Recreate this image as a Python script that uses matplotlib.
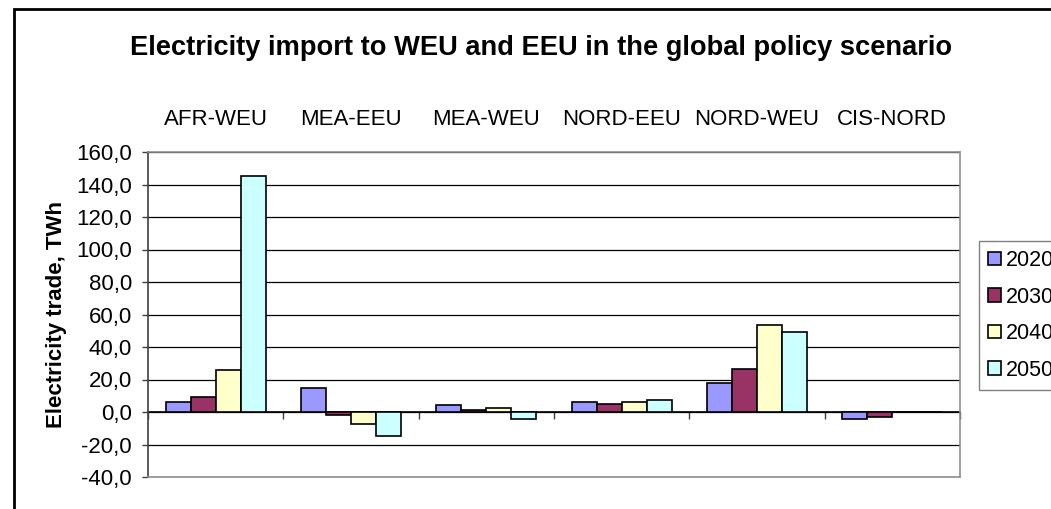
import numpy as np
import matplotlib
matplotlib.use("Agg")
import matplotlib.pyplot as plt
import matplotlib.patches as patches
from matplotlib.ticker import FuncFormatter

plt.rcParams['font.family'] = ['Liberation Sans', 'DejaVu Sans']

# data
routes = ["AFR-WEU", "MEA-EEU", "MEA-WEU", "NORD-EEU", "NORD-WEU", "CIS-NORD"]
years = ["2020", "2030", "2040", "2050"]
y2020 = [6.2, 14.8, 4.1, 6.2, 18.0, -4.3]
y2030 = [9.4, -2.1, 1.0, 5.1, 26.6, -3.1]
y2040 = [25.6, -7.4, 2.2, 6.2, 53.3, 0.0]
y2050 = [145.2, -15.0, -4.3, 7.6, 49.2, 0.0]
series = [y2020, y2030, y2040, y2050]
colors = ["#9999FF", "#993366", "#FFFFCC", "#CCFFFF"]

fig = plt.figure(figsize=(10.51, 5.09), dpi=100)
ax = fig.add_axes([148/1051, 1 - 477/509, (960 - 148)/1051, (477 - 152)/509])

x = np.arange(len(routes))
w = 0.185
for i, (vals, c, yr) in enumerate(zip(series, colors, years)):
    ax.bar(x + (i - 1.5) * w, vals, w, color=c, edgecolor="black", linewidth=1.2, label=yr, zorder=3)

ax.set_xlim(-0.5, len(routes) - 0.5)
ax.set_ylim(-40, 160)
ax.set_yticks(np.arange(-40, 161, 20))
ax.yaxis.set_major_formatter(FuncFormatter(lambda v, p: ("%.1f" % v).replace(".", ",")))
ax.tick_params(axis="y", length=4.5, width=1, color="#404040", labelsize=16, pad=7)
ax.yaxis.grid(True, color="black", linewidth=0.9, zorder=0)

# category labels above the plot
ax.set_xticks(x)
ax.set_xticklabels(routes)
ax.xaxis.tick_top()
ax.tick_params(axis="x", length=0, labelsize=16, pad=16)

for s in ["top", "right", "bottom"]:
    ax.spines[s].set_color("#909090")
    ax.spines[s].set_linewidth(1.2)
ax.spines["left"].set_color("#404040")
ax.spines["left"].set_linewidth(1.2)

# category axis crossing at zero
zero_frac = (0 - (-40)) / 200.0
sec = ax.secondary_xaxis(zero_frac)
sec.set_xticks(np.arange(len(routes) + 1) - 0.5)
sec.set_xticklabels([])
sec.tick_params(length=5, width=1, color="#404040")
sec.spines["bottom"].set_color("black")
sec.spines["bottom"].set_linewidth(1.2)

ax.set_ylabel("Electricity trade, TWh", fontsize=16, fontweight="bold", labelpad=7)

fig.text(541/1051, 1 - 55/509, "Electricity import to WEU and EEU in the global policy scenario",
         ha="center", va="baseline", fontsize=19.6, fontweight="bold")

leg = ax.legend(loc="upper left", bbox_to_anchor=(979/1051, 1 - 241/509), bbox_transform=fig.transFigure,
                fontsize=15.5, frameon=True, fancybox=False, edgecolor="#808080", framealpha=1,
                handlelength=0.6, handleheight=0.6, handletextpad=0.22, labelspacing=0.72,
                borderpad=0.42, borderaxespad=0)
leg.get_frame().set_linewidth(1.0)

# outer chart frame (runs off the right/bottom edge in the reference)
fig.add_artist(patches.Rectangle((14/1051, -0.1), 1.2, 1.1 - 9/509, transform=fig.transFigure,
                                 fill=False, edgecolor="black", linewidth=2))

fig.savefig("out.png", dpi=100)
